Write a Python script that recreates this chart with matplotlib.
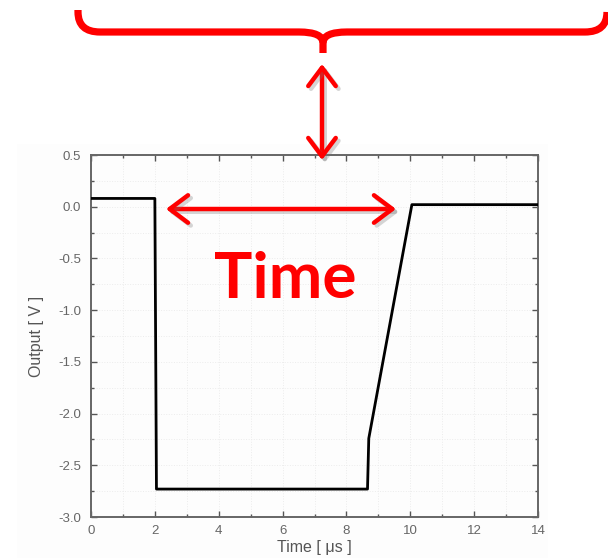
import numpy as np
import matplotlib
matplotlib.use("Agg")
import matplotlib.pyplot as plt
from matplotlib.path import Path
from matplotlib.patches import PathPatch, FancyArrowPatch, Rectangle
from matplotlib.ticker import MultipleLocator
import matplotlib.patheffects as pe

# output pulse
time_us = [0.0, 2.0, 2.05, 8.66, 8.70, 10.05, 14.0]
output_v = [0.08, 0.08, -2.73, -2.73, -2.24, 0.02, 0.02]

x_ticks = [0, 2, 4, 6, 8, 10, 12, 14]
y_ticks = [0.5, 0.0, -0.5, -1.0, -1.5, -2.0, -2.5, -3.0]

W, H = 608, 558
RED = "#ff0000"

plt.rcParams["font.family"] = ["Liberation Sans", "DejaVu Sans"]

fig = plt.figure(figsize=(W / 100, H / 100), dpi=100)
fig.patch.set_facecolor("white")


def px(x, y):
    # pixel position (from top-left) to figure fraction
    return x / W, 1 - y / H


# faint backing of the pasted plot
fig.add_artist(Rectangle(px(17, 558), 531 / W, 414 / H, transform=fig.transFigure,
                         facecolor="#fdfdfd", edgecolor="none", zorder=0))

ax = fig.add_axes([91 / W, 1 - 517 / H, 447 / W, 362 / H])
ax.set_facecolor("none")
ax.plot(time_us, output_v, color="black", lw=2.0, solid_joinstyle="round", zorder=3)

ax.set_xlim(0, 14)
ax.set_ylim(-3.0, 0.5)
ax.set_xticks(x_ticks)
ax.set_yticks(y_ticks)
ax.set_yticklabels([f"{v:.1f}" for v in y_ticks])
ax.xaxis.set_minor_locator(MultipleLocator(1))
ax.yaxis.set_minor_locator(MultipleLocator(0.25))
ax.grid(which="both", color="#ececec", ls=":", lw=0.7, zorder=0)
ax.tick_params(which="both", direction="in", top=True, right=True,
               colors="#555555", labelcolor="#666666", labelsize=9.5, width=1)
ax.tick_params(which="major", length=4)
ax.tick_params(axis="y", which="major", pad=7)
ax.tick_params(axis="x", which="major", pad=6)
ax.tick_params(which="minor", length=2.5)
for s in ax.spines.values():
    s.set_color("#666666")
    s.set_linewidth(1.4)
ax.set_xlabel("Time [ \u03bcs ]", fontsize=11.5, color="#555555", labelpad=2)
ax.set_ylabel("Output [ V ]", fontsize=11.5, color="#555555", labelpad=10)

# curly brace across the top
bx0, bx1, bm = 78, 607, 323
by, yt, ytip = 32, 10, 53
verts = [px(bx0, yt), px(bx0, by - 20), px(bx0, by), px(bx0 + 22, by),
         px(bm - 24, by), px(bm, by), px(bm, ytip - 10), px(bm, ytip)]
codes = [Path.MOVETO, Path.LINETO, Path.CURVE3, Path.CURVE3,
         Path.LINETO, Path.CURVE3, Path.CURVE3, Path.LINETO]
fig.add_artist(PathPatch(Path(verts, codes), transform=fig.transFigure, fill=False,
                         edgecolor=RED, lw=5.2, capstyle="butt", joinstyle="round"))
verts = [px(bm, ytip - 10), px(bm, by), px(bm + 24, by),
         px(bx1 - 22, by), px(bx1, by), px(bx1, by - 20)]
codes = [Path.MOVETO, Path.CURVE3, Path.CURVE3, Path.LINETO, Path.CURVE3, Path.CURVE3]
fig.add_artist(PathPatch(Path(verts, codes), transform=fig.transFigure, fill=False,
                         edgecolor=RED, lw=5.2, capstyle="butt", joinstyle="round"))

# double arrows with a soft drop shadow
shadow = [pe.SimpleLineShadow(offset=(2, -2), shadow_color="#777777", alpha=0.3), pe.Normal()]
for a, b in [((322, 64), (322, 160)), ((166, 209), (396, 209))]:
    arr = FancyArrowPatch(px(*a), px(*b), transform=fig.transFigure,
                          arrowstyle="<->,head_length=0.6,head_width=0.45",
                          mutation_scale=22, color=RED, lw=3.2,
                          capstyle="round", joinstyle="round", shrinkA=0, shrinkB=0)
    arr.set_path_effects(shadow)
    fig.add_artist(arr)

fig.text(285 / W, 1 - 298 / H, "Time", fontfamily="Lato", fontweight="bold",
         fontsize=46, color=RED, ha="center", va="baseline")

fig.savefig("out.png", dpi=100)
